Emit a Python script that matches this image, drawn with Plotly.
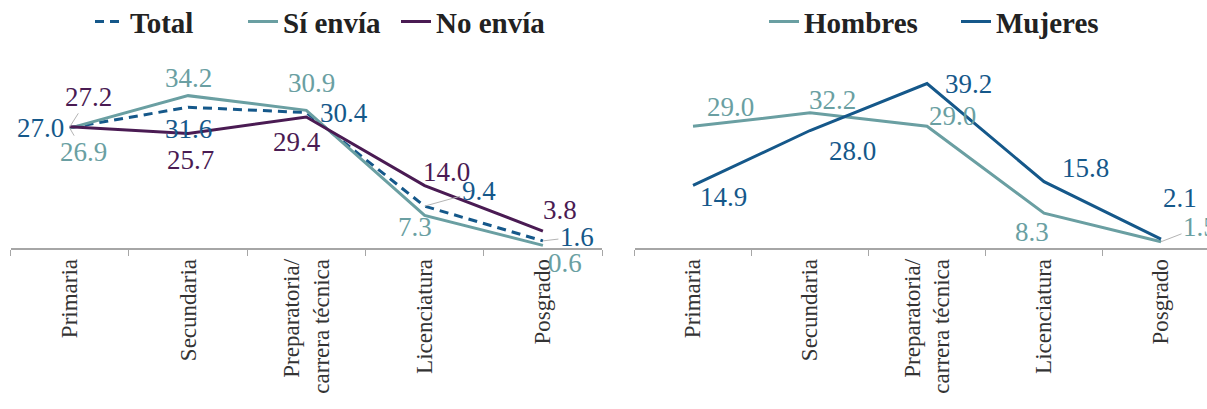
import plotly.graph_objects as go

CATEGORIES = ["Primaria", "Secundaria", "Preparatoria/<br>carrera técnica", "Licenciatura", "Posgrado"]

TOTAL = [27.0, 31.6, 30.4, 9.4, 1.6]
SI_ENVIA = [26.9, 34.2, 30.9, 7.3, 0.6]
NO_ENVIA = [27.2, 25.7, 29.4, 14.0, 3.8]

HOMBRES = [29.0, 32.2, 29.0, 8.3, 1.5]
MUJERES = [14.9, 28.0, 39.2, 15.8, 2.1]

BLUE = "#15588a"
TEAL = "#6a9fa2"
PURPLE = "#4a1b53"
LEADER = "#b4b4b4"
FONT = "Liberation Serif"

# label offsets in pixels (dx, dy; dy positive = down); "arrow" draws a grey leader line
_OFFSETS = {
    "total": [("left", -4, 0), (0, 22), (38, 0), ("arrow", 54, -15), ("arrow", 34, -4)],
    "si": [("arrow", 14, 24), (0, -18), (5, -27), (-10, 12), (22, 18)],
    "no": [("arrow", 19, -30), (2, 26), (-9, 25), (22, -14), (17, -21)],
    "hombres": [(37, -19), (22, -13), (25, -10), (-12, 19), ("arrow", 39, -15)],
    "mujeres": [(30, 12), (42, 20), (41, 0), (41, -14), (19, -41)],
}

fig = go.Figure()
fig.add_scatter(x=CATEGORIES, y=TOTAL, name="Total", mode="lines",
                line={"color": BLUE, "width": 3, "dash": "9px,6px"}, xaxis="x", yaxis="y", legend="legend")
fig.add_scatter(x=CATEGORIES, y=SI_ENVIA, name="Sí envía", mode="lines",
                line={"color": TEAL, "width": 3}, xaxis="x", yaxis="y", legend="legend")
fig.add_scatter(x=CATEGORIES, y=NO_ENVIA, name="No envía", mode="lines",
                line={"color": PURPLE, "width": 3}, xaxis="x", yaxis="y", legend="legend")
fig.add_scatter(x=CATEGORIES, y=HOMBRES, name="Hombres", mode="lines",
                line={"color": TEAL, "width": 3}, xaxis="x2", yaxis="y2", legend="legend2")
fig.add_scatter(x=CATEGORIES, y=MUJERES, name="Mujeres", mode="lines",
                line={"color": BLUE, "width": 3}, xaxis="x2", yaxis="y2", legend="legend2")


def add_labels(values, key, color, xref, yref):
    for cat, val, off in zip(CATEGORIES, values, _OFFSETS[key]):
        base = dict(x=cat, y=val, xref=xref, yref=yref, text=f"{val:.1f}",
                    font={"family": FONT, "size": 27, "color": color})
        if off[0] == "arrow":
            fig.add_annotation(**base, showarrow=True, arrowhead=0, arrowwidth=1,
                               arrowcolor=LEADER, ax=off[1], ay=off[2], standoff=0)
        elif off[0] == "left":
            fig.add_annotation(**base, showarrow=False, xanchor="right",
                               xshift=off[1], yshift=-off[2])
        else:
            fig.add_annotation(**base, showarrow=False, xshift=off[0], yshift=-off[1])


add_labels(TOTAL, "total", BLUE, "x", "y")
add_labels(SI_ENVIA, "si", TEAL, "x", "y")
add_labels(NO_ENVIA, "no", PURPLE, "x", "y")
add_labels(HOMBRES, "hombres", TEAL, "x2", "y2")
add_labels(MUJERES, "mujeres", BLUE, "x2", "y2")

xaxis_style = dict(
    type="category", tickson="boundaries", ticks="outside", ticklen=6, tickcolor="#a6a6a6",
    showline=True, linecolor="#a6a6a6", linewidth=1.5, showgrid=False, tickangle=-90,
    tickfont={"family": FONT, "size": 23, "color": "#333333"}, fixedrange=True, automargin=False,
)
yaxis_style = dict(visible=False, showgrid=False, zeroline=False, fixedrange=True, automargin=False)

legend_style = dict(
    orientation="h", xanchor="left", yanchor="middle", y=0.947, bgcolor="rgba(0,0,0,0)",
    font={"family": FONT, "size": 29, "color": "#222222", "weight": "bold"},
    itemclick=False, itemdoubleclick=False, entrywidthmode="pixels",
)

fig.update_layout(
    width=1207, height=409, margin={"l": 0, "r": 0, "t": 0, "b": 0, "autoexpand": False},
    paper_bgcolor="white", plot_bgcolor="white", showlegend=True,
    xaxis={**xaxis_style, "domain": [0.0088, 0.4988], "range": [-0.5, 4.5], "anchor": "y"},
    yaxis={**yaxis_style, "domain": [0.3936, 0.8533], "range": [0, 42.2], "anchor": "x"},
    xaxis2={**xaxis_style, "domain": [0.5257, 1.0], "range": [-0.5, 4.393], "anchor": "y2"},
    yaxis2={**yaxis_style, "domain": [0.3936, 0.8533], "range": [0, 44.8], "anchor": "x2"},
    legend={**legend_style, "x": 90 / 1207, "entrywidth": 108},
    legend2={**legend_style, "x": 764 / 1207, "entrywidth": 147},
)

fig.write_html("out.html", config={"displayModeBar": False},
               post_script="document.body.style.margin = '0';")
